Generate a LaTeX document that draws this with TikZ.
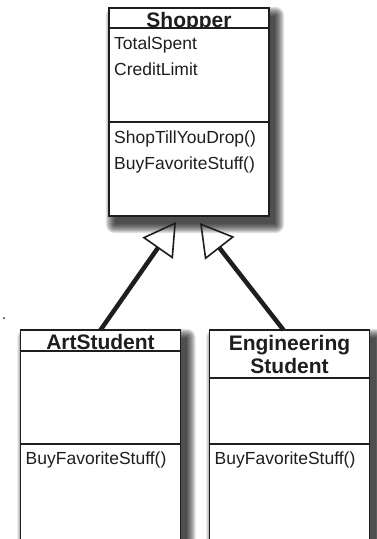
\documentclass[tikz,border=0pt]{standalone}
\usepackage{fontspec}
\setmainfont{Liberation Sans}
\usetikzlibrary{positioning,fit,backgrounds,arrows.meta}
\definecolor{umlink}{RGB}{30,30,30}
\tikzset{
  umlpart/.style={draw=umlink, line width=1.4pt, fill=white,
                  minimum width=160pt, inner sep=0pt, outer sep=0pt},
  umltitle/.style={umlpart, font=\fontsize{21pt}{23pt}\selectfont\bfseries,
                   align=center, text=umlink},
  umlone/.style={umltitle, text height=18pt, text depth=0pt, minimum height=21pt},
  umlmember/.style={anchor=base west, inner sep=0pt,
                    font=\fontsize{17.5pt}{25pt}\selectfont, text=umlink},
  umlframe/.style={inner sep=0pt},
  umlinherit/.style={-{Triangle[open, length=32pt, width=37pt, line width=1.6pt]},
                     line width=4.5pt, draw=umlink},
}
\newcommand{\softshadow}[1]{%
  \foreach \k in {0,...,9}
    \fill[black, opacity=0.11, rounded corners=\k pt]
      ([shift={(6pt-\k pt,-8pt+\k pt)}]#1.north west) rectangle
      ([shift={(6pt+\k pt,-8pt-\k pt)}]#1.south east);}
\newcommand{\CShop}{189}
\newcommand{\CArt}{100.5}
\newcommand{\CEng}{289.5}

\begin{document}
\begin{tikzpicture}[x=1pt, y=-1pt, node distance=0pt]
  \useasboundingbox (0,0) rectangle (377,539);
  \clip (0,0) rectangle (377,539);

  % base class
  \node[umlone, minimum height=20pt] (shoptitle) at (\CShop,18) {Shopper};
  \node[umlpart, minimum height=94pt, below=of shoptitle] (shopattr) {};
  \node[umlpart, minimum height=94pt, below=of shopattr] (shopmeth) {};
  \node[umlmember] (total) at ([shift={(5pt,-21pt)}]shopattr.north west) {TotalSpent};
  \node[umlmember] (credit) at ([shift={(5pt,-47pt)}]shopattr.north west) {CreditLimit};
  \node[umlmember] (shoptill) at ([shift={(5pt,-21pt)}]shopmeth.north west) {ShopTillYouDrop()};
  \node[umlmember] (shopbuy) at ([shift={(5pt,-47pt)}]shopmeth.north west) {BuyFavoriteStuff()};

  % subclasses
  \node[umlone] (arttitle) at (\CArt,340.5) {ArtStudent};
  \node[umlpart, minimum height=93pt, below=of arttitle] (artattr) {};
  \node[umlpart, minimum height=120pt, below=of artattr] (artmeth) {};
  \node[umlmember] (artbuy) at ([shift={(5pt,-20pt)}]artmeth.north west) {BuyFavoriteStuff()};

  \node[umltitle, minimum height=48pt] (engtitle) at (\CEng,354) {Engineering\\Student};
  \node[umlpart, minimum height=66pt, below=of engtitle] (engattr) {};
  \node[umlpart, minimum height=120pt, below=of engattr] (engmeth) {};
  \node[umlmember] (engbuy) at ([shift={(5pt,-20pt)}]engmeth.north west) {BuyFavoriteStuff()};

  \begin{scope}[on background layer]
    \node[umlframe, fit=(shoptitle)(shopmeth)] (shopback) {};
    \node[umlframe, fit=(arttitle)(artmeth)] (artback) {};
    \node[umlframe, fit=(engtitle)(engmeth)] (engback) {};
    \softshadow{shopback}
    \softshadow{artback}
    \softshadow{engback}
  \end{scope}

  \draw[umlinherit] (arttitle.north) -- ([shift={(-13pt,-6pt)}]shopmeth.south);
  \draw[umlinherit] ([xshift=-6pt]engtitle.north) -- ([shift={(11pt,-7pt)}]shopmeth.south);

  \fill[umlink] (4,318) circle (1pt);
\end{tikzpicture}
\end{document}
